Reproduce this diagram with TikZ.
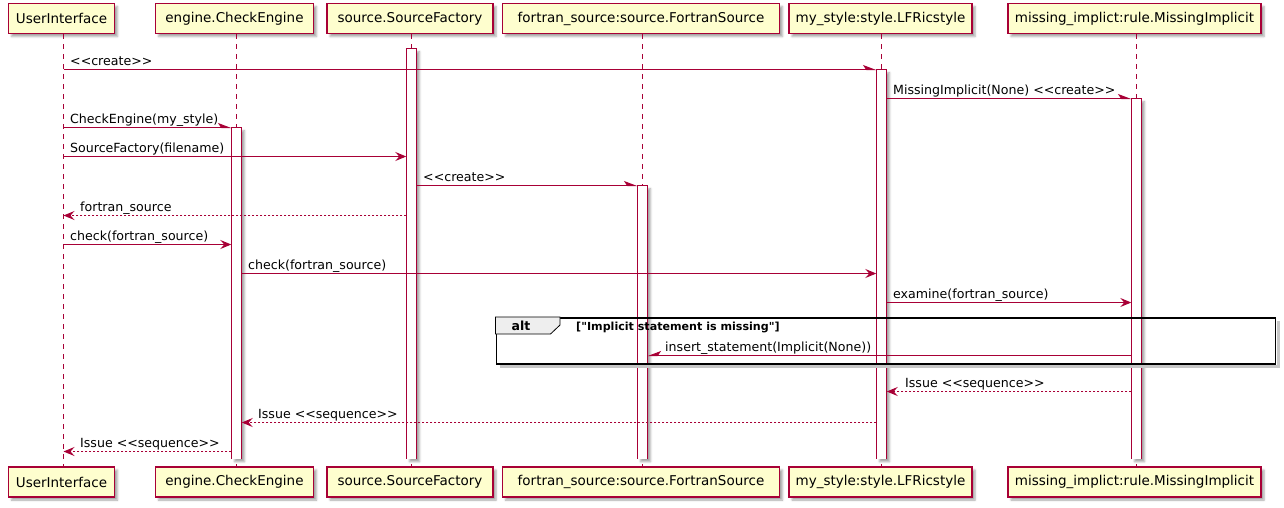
\documentclass[tikz,border=0pt]{standalone}
\usepackage{fontspec}
\setmainfont{DejaVu Sans}[Ligatures=TeXOff]
\usetikzlibrary{arrows.meta,shadows,shadows.blur,calc}
\definecolor{pu}{HTML}{A80036}
\definecolor{pbox}{HTML}{FEFECE}
\definecolor{tabg}{HTML}{EEEEEE}
\tikzset{
  shad/.style={blur shadow={shadow xshift=3pt, shadow yshift=-3pt, shadow blur radius=2pt, shadow opacity=35}},
  part/.style={draw=pu, line width=1.2pt, fill=pbox, minimum height=30pt, inner sep=0pt,
    font=\fontsize{13.5}{16}\selectfont, shad},
  life/.style={draw=pu, line width=1pt, dash pattern=on 5pt off 5pt},
  actbar/.style={fill=white, minimum width=10pt, inner sep=0pt, anchor=north, shad},
  barline/.style={draw=pu, line width=1pt},
  msg/.style={draw=pu, line width=1pt, -{Stealth[length=11pt,width=9pt,inset=4pt]}},
  ret/.style={msg, dash pattern=on 2pt off 2pt},
  create/.style={draw=pu, line width=1pt, -{Stealth[harpoon,length=12pt,width=9pt,inset=3pt]}},
  createl/.style={draw=pu, line width=1pt, -{Stealth[harpoon,swap,length=12pt,width=9pt,inset=3pt]}},
  lbl/.style={font=\fontsize{12.6}{15}\selectfont, anchor=base west, inner sep=0pt},
  frame/.style={draw=black, line width=1.6pt},
  frameshadow/.style={draw=black!22, line width=3pt},
}
\begin{document}
\begin{tikzpicture}[x=1pt,y=-1pt]
\useasboundingbox (0,0) rectangle (1284,507);
% lifeline x positions
\coordinate (xUI) at (63.5,0);
\coordinate (xCE) at (236.5,0);
\coordinate (xSF) at (411.5,0);
\coordinate (xFS) at (642.5,0);
\coordinate (xLS) at (881.5,0);
\coordinate (xMI) at (1136.5,0);
% participants top
\node[part, minimum width=106pt] (uiT) at (61.5,18.5) {UserInterface};
\node[part, minimum width=158pt] (ceT) at (234.5,18.5) {engine.CheckEngine};
\node[part, minimum width=166pt] (sfT) at (410,18.5) {source.SourceFactory};
\node[part, minimum width=277pt] (fsT) at (641,18.5) {fortran\_source:source.FortranSource};
\node[part, minimum width=183pt] (lsT) at (880.5,18.5) {my\_style:style.LFRicstyle};
\node[part, minimum width=253pt] (miT) at (1134.5,18.5) {missing\_implict:rule.MissingImplicit};
% participants bottom
\node[part, minimum width=106pt] (uiB) at (61.5,482) {UserInterface};
\node[part, minimum width=158pt] (ceB) at (234.5,482) {engine.CheckEngine};
\node[part, minimum width=166pt] (sfB) at (410,482) {source.SourceFactory};
\node[part, minimum width=277pt] (fsB) at (641,482) {fortran\_source:source.FortranSource};
\node[part, minimum width=183pt] (lsB) at (880.5,482) {my\_style:style.LFRicstyle};
\node[part, minimum width=253pt] (miB) at (1134.5,482) {missing\_implict:rule.MissingImplicit};
% lifelines
\draw[life] (xUI |- uiT.south) -- (xUI |- uiB.north);
\draw[life] (xCE |- ceT.south) -- (xCE |- ceB.north);
\draw[life] (xSF |- sfT.south) -- (xSF |- sfB.north);
\draw[life] (xFS |- fsT.south) -- (xFS |- fsB.north);
\draw[life] (xLS |- lsT.south) -- (xLS |- lsB.north);
\draw[life] (xMI |- miT.south) -- (xMI |- miB.north);
% activation bars (open at the bottom)
\node[actbar, minimum height=410pt] (aSF) at (xSF |- 0,48.5) {};
\node[actbar, minimum height=389pt] (aLS) at (xLS |- 0,69.5) {};
\node[actbar, minimum height=360pt] (aMI) at (xMI |- 0,98.5) {};
\node[actbar, minimum height=331pt] (aCE) at (xCE |- 0,127.5) {};
\node[actbar, minimum height=273pt] (aFS) at (xFS |- 0,185.5) {};
\foreach \b in {aSF,aLS,aMI,aCE,aFS}
  \draw[barline] (\b.south west) |- (\b.north) -| (\b.south east);
% alt frame
\node[frame, minimum width=779pt, minimum height=46pt, anchor=north west, inner sep=0pt] (alt) at (495.5,317) {};
\draw[frameshadow] ([shift={(2.2pt,-4pt)}]alt.north east) -- ([shift={(2.2pt,-2.2pt)}]alt.south east) -- ([shift={(4pt,-2.2pt)}]alt.south west);
\draw[draw=black, line width=0.8pt, fill=tabg] (alt.north west) -- ++(64.5,0) -- ++(0,8) -- ++(-9.5,9) -- (alt.north west |- 0,334) -- cycle;
\node[font=\bfseries\fontsize{12.5}{15}\selectfont, inner sep=0pt] (altl) at (521,326) {alt};
\node[font=\bfseries\fontsize{11.1}{13}\selectfont, anchor=base west, inner sep=0pt] (cond) at (576,330) {["Implicit statement is missing"]};
% messages
\draw[create] (xUI |- 0,69.5) -- (aLS.west |- 0,69.5);
\node[lbl] (l1) at (70,65) {<<create>>};
\draw[create] (aLS.east |- 0,98.5) -- (aMI.west |- 0,98.5);
\node[lbl] (l2) at (893,94) {MissingImplicit(None) <<create>>};
\draw[create] (xUI |- 0,127.5) -- (aCE.west |- 0,127.5);
\node[lbl] (l3) at (70,123) {CheckEngine(my\_style)};
\draw[msg] (xUI |- 0,156.5) -- (aSF.west |- 0,156.5);
\node[lbl] (l4) at (70,152) {SourceFactory(filename)};
\draw[create] (aSF.east |- 0,185.5) -- (aFS.west |- 0,185.5);
\node[lbl] (l5) at (423,181) {<<create>>};
\draw[ret] (aSF.west |- 0,215.5) -- (xUI |- 0,215.5);
\node[lbl] (l6) at (80,211) {fortran\_source};
\draw[msg] (xUI |- 0,244.5) -- (aCE.west |- 0,244.5);
\node[lbl] (l7) at (70,240) {check(fortran\_source)};
\draw[msg] (aCE.east |- 0,273.5) -- (aLS.west |- 0,273.5);
\node[lbl] (l8) at (248,269) {check(fortran\_source)};
\draw[msg] (aLS.east |- 0,302.5) -- (aMI.west |- 0,302.5);
\node[lbl] (l9) at (893,298) {examine(fortran\_source)};
\draw[createl] (aMI.west |- 0,355.5) -- (aFS.east |- 0,355.5);
\node[lbl] (l10) at (665,351) {insert\_statement(Implicit(None))};
\draw[ret] (aMI.west |- 0,391.5) -- (aLS.east |- 0,391.5);
\node[lbl] (l11) at (905,387) {Issue <<sequence>>};
\draw[ret] (aLS.west |- 0,422.5) -- (aCE.east |- 0,422.5);
\node[lbl] (l12) at (258,418) {Issue <<sequence>>};
\draw[ret] (aCE.west |- 0,451.5) -- (xUI |- 0,451.5);
\node[lbl] (l13) at (80,447) {Issue <<sequence>>};
\end{tikzpicture}
\end{document}
